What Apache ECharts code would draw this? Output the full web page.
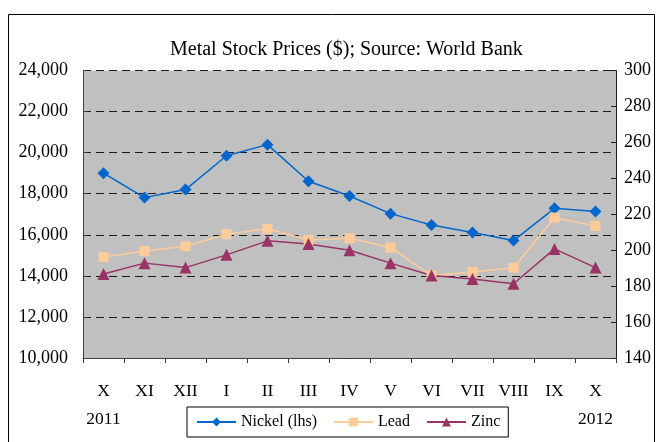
<!DOCTYPE html>
<html>
<head>
<meta charset="utf-8">
<script src="https://cdn.jsdelivr.net/npm/echarts@6/dist/echarts.min.js"></script>
<style>html,body{margin:0;padding:0;background:#fff;}#c{width:659px;height:442px;}</style>
</head>
<body>
<div id="c"></div>
<script>
const months = ['X','XI','XII','I','II','III','IV','V','VI','VII','VIII','IX','X'];
const years = ['2011','','','','','','','','','','','','2012'];
const nickel = [19000,17810,18200,19850,20390,18610,17890,17030,16480,16110,15720,17290,17130];
const lead = [196.1,199.5,202.2,208.9,211.9,205.7,206.6,201.5,185.9,187.9,190.2,218.1,213.5];
const zinc = [186.7,192.8,190.3,197.4,205.2,203.5,200.0,192.8,185.9,183.9,181.3,200.7,190.3];
const seriesNames = ['Nickel (lhs)','Lead','Zinc'];

const FONT = 'Liberation Serif';
const chart = echarts.init(document.getElementById('c'), null, {renderer:'canvas'});
function fmtThousands(v){ return String(v).replace(/\B(?=(\d{3})+(?!\d))/g, ','); }

chart.setOption({
  animation:false,
  backgroundColor:'#fff',
  textStyle:{fontFamily:FONT},
  title:{
    text:'Metal Stock Prices ($); Source: World Bank',
    left:165, top:35,
    textStyle:{fontFamily:FONT,fontSize:20,fontWeight:'normal',color:'#000'}
  },
  graphic:[{
    type:'rect', shape:{x:8.5,y:14.5,width:646,height:440},
    style:{fill:'none',stroke:'#000',lineWidth:1}, silent:true, z:-1
  }],
  legend:{
    data:seriesNames,
    left:187, top:407,
    padding:[7,8,7,9],
    borderColor:'#000', borderWidth:1,
    itemWidth:39, itemHeight:11, itemGap:16,
    textStyle:{fontFamily:FONT,fontSize:16,color:'#000',padding:[0,0,0,0]}
  },
  grid:{
    left:83, right:43, top:70.5, bottom:84,
    show:true, backgroundColor:'#C0C0C0', borderWidth:0
  },
  xAxis:{
    type:'category', data:months, boundaryGap:true,
    axisLine:{lineStyle:{color:'#404040',width:1}},
    axisTick:{show:true,inside:false,length:5,lineStyle:{color:'#404040'}},
    axisLabel:{
      interval:0, margin:19, fontFamily:FONT, fontSize:17.5, color:'#000', lineHeight:28,
      formatter:function(v,i){ return years[i] ? v+'\n'+years[i] : v; }
    }
  },
  yAxis:[{
    type:'value', min:10000, max:24000, interval:2000, position:'left',
    axisLine:{show:true,lineStyle:{color:'#404040'}},
    axisTick:{show:true,inside:true,length:4,lineStyle:{color:'#404040'}},
    axisLabel:{margin:15,fontFamily:FONT,fontSize:18,color:'#000',formatter:fmtThousands},
    splitLine:{show:true,lineStyle:{color:'#1a1a1a',type:[8,5],width:1}}
  },{
    type:'value', min:140, max:300, interval:20, position:'right',
    axisLine:{show:true,lineStyle:{color:'#202020'}},
    axisTick:{show:true,inside:true,length:5,lineStyle:{color:'#202020'}},
    axisLabel:{margin:8,fontFamily:FONT,fontSize:18,color:'#000'},
    splitLine:{show:false}
  }],
  series:[{
    name:seriesNames[0], type:'line', yAxisIndex:0, data:nickel,
    symbol:'diamond', symbolSize:12,
    lineStyle:{color:'#0066CC',width:1.5}, itemStyle:{color:'#0066CC'}
  },{
    name:seriesNames[1], type:'line', yAxisIndex:1, data:lead,
    symbol:'rect', symbolSize:10,
    lineStyle:{color:'#FFCC99',width:1.5}, itemStyle:{color:'#FFCC99'}
  },{
    name:seriesNames[2], type:'line', yAxisIndex:1, data:zinc,
    symbol:'triangle', symbolSize:12,
    lineStyle:{color:'#993366',width:1.5}, itemStyle:{color:'#993366'}
  }]
});
</script>
</body>
</html>
